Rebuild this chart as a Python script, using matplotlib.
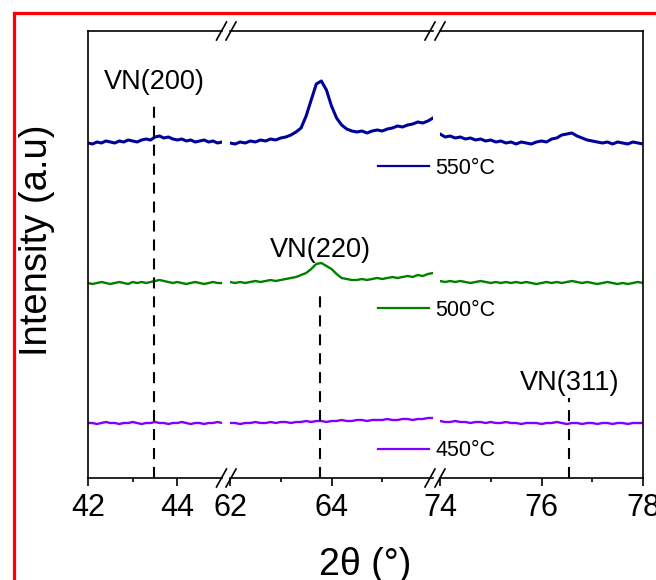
import numpy as np
import matplotlib
matplotlib.use("Agg")
import matplotlib.pyplot as plt
from matplotlib.lines import Line2D
from matplotlib.patches import Rectangle

plt.rcParams['font.family'] = ['Liberation Sans', 'DejaVu Sans']

########################
# x sampling of the three windows (2theta, deg)
x_seg1 = np.linspace(42, 45, 31)
x_seg2 = np.linspace(62, 66, 41)
x_seg3 = np.linspace(74, 78, 41)

# 550 C (intensity, a.u.)
i550_seg1 = [335, 334, 336, 335, 337, 336, 335, 337, 336, 338, 337, 336, 338, 339, 338, 341,
             342, 340, 341, 339, 338, 339, 337, 338, 336, 337, 338, 336, 337, 335, 336]
i550_seg2 = [335, 334, 336, 335, 337, 336, 338, 337, 339, 338, 340, 341, 343, 346, 350, 362,
             378, 394, 397, 388, 372, 360, 353, 349, 347, 346, 347, 345, 347, 348, 347, 349,
             350, 352, 351, 353, 354, 356, 355, 357, 360]
i550_seg3 = [344, 341, 342, 340, 341, 339, 340, 338, 339, 337, 338, 336, 337, 335, 336, 334,
             336, 335, 334, 336, 337, 336, 339, 340, 343, 344, 345, 342, 340, 338, 337, 336,
             335, 336, 334, 336, 335, 334, 336, 335, 334]

# 500 C
i500_seg1 = [195, 194, 195, 196, 195, 194, 195, 196, 195, 194, 196, 195, 196, 195, 196, 197,
             198, 197, 196, 195, 196, 195, 194, 195, 196, 195, 194, 195, 196, 195, 195]
i500_seg2 = [196, 195, 196, 195, 196, 197, 196, 197, 198, 197, 198, 199, 200, 201, 203, 205,
             209, 214, 215, 212, 209, 204, 200, 199, 198, 198, 199, 198, 199, 200, 199, 200,
             201, 200, 201, 202, 201, 203, 202, 204, 205]
i500_seg3 = [197, 196, 197, 196, 197, 196, 195, 196, 197, 196, 195, 196, 195, 196, 195, 196,
             195, 196, 195, 194, 195, 196, 195, 196, 195, 196, 197, 196, 195, 196, 195, 194,
             195, 196, 195, 194, 195, 194, 195, 196, 195]

# 450 C
i450_seg1 = [55, 55, 54, 55, 56, 55, 55, 54, 55, 55, 56, 55, 54, 55, 55, 56, 55, 55, 54, 55,
             55, 56, 55, 54, 55, 55, 54, 55, 55, 56, 55]
i450_seg2 = [55, 55, 54, 55, 55, 56, 55, 55, 56, 55, 56, 56, 55, 56, 56, 57, 56, 57, 57, 56,
             57, 57, 58, 57, 57, 58, 58, 57, 58, 58, 58, 59, 58, 58, 59, 59, 58, 59, 59, 60, 60]
i450_seg3 = [57, 56, 56, 57, 56, 56, 55, 56, 56, 55, 56, 55, 55, 56, 55, 55, 54, 55, 55, 55,
             54, 55, 55, 56, 55, 54, 55, 55, 54, 55, 55, 54, 55, 55, 54, 55, 55, 54, 55, 55, 55]

labels = ["550°C", "500°C", "450°C"]
colors = ["#00009B", "#008000", "#8000FF"]

# reference peaks: name, position, top of dashed marker, label height, window index
peak_names = ["VN(200)", "VN(220)", "VN(311)"]
peak_pos = [43.48, 63.78, 76.55]
peak_top = [373, 188, 80]
peak_label_y = [389, 221, 88]
peak_window = [0, 1, 2]
########################

W, H = 656, 580
fig = plt.figure(figsize=(W / 100, H / 100), dpi=100)


def fx(x):
    return x / W


def fy(y):
    return 1 - y / H


top, bottom = 31, 478
windows = [(88, 222, 42, 45, [42, 44], [43]),
           (230, 433, 62, 66, [62, 64], [63, 65]),
           (440, 643, 74, 78, [74, 76, 78], [75, 77])]
axes = []
for x0, x1, lo, hi, major, minor in windows:
    ax = fig.add_axes([fx(x0), fy(bottom), (x1 - x0) / W, (bottom - top) / H])
    ax.set_xlim(lo, hi)
    ax.set_ylim(0, 447)
    ax.set_xticks(major)
    ax.set_xticks(minor, minor=True)
    ax.set_yticks([])
    ax.tick_params(axis='x', which='major', direction='out', length=6, width=1.2,
                   labelsize=22, pad=5)
    ax.tick_params(axis='x', which='minor', direction='out', length=3.2, width=1.2)
    for s in ax.spines.values():
        s.set_linewidth(1.2)
    axes.append(ax)

axes[0].spines['right'].set_visible(False)
axes[1].spines['left'].set_visible(False)
axes[1].spines['right'].set_visible(False)
axes[2].spines['left'].set_visible(False)

xs = [x_seg1, x_seg2, x_seg3]
series = [[i550_seg1, i550_seg2, i550_seg3],
          [i500_seg1, i500_seg2, i500_seg3],
          [i450_seg1, i450_seg2, i450_seg3]]
widths = [2.2, 1.7, 1.7]
handles = []
for segs, c, lw in zip(series, colors, widths):
    for ax, x, y in zip(axes, xs, segs):
        ln, = ax.plot(x, y, color=c, lw=lw, solid_joinstyle='round')
    handles.append(ln)

for name, pos, t, ly, k in zip(peak_names, peak_pos, peak_top, peak_label_y, peak_window):
    ax = axes[k]
    ax.vlines(pos, 0, t, colors='black', lw=1.5, linestyles=(0, (5.3, 3.8)))
    ax.text(pos, ly, name, ha='center', va='baseline', fontsize=19.5)

# separate legend entries under each curve
legend_y = [168, 310, 451]
for h, lab, ly in zip(handles, labels, legend_y):
    fig.legend([Line2D([], [], color=h.get_color(), lw=1.6)], [lab], loc='center left',
               bbox_to_anchor=(fx(378), fy(ly)), frameon=False, fontsize=15.5,
               handlelength=2.35, handletextpad=0.3, borderpad=0, borderaxespad=0)

# axis break marks
for cx in [221.5, 231, 430, 440]:
    for yb in [top, bottom]:
        fig.add_artist(Line2D([fx(cx - 5), fx(cx + 5)], [fy(yb + 9), fy(yb - 9)],
                              color='black', lw=1.2, transform=fig.transFigure))

fig.text(fx(365), fy(575), "2θ (°)", ha='center', va='baseline', fontsize=27)
fig.text(fx(37), fy(240), "Intensity (a.u)", ha='center', va='center', rotation=90,
         fontsize=27.5)

fig.add_artist(Rectangle((fx(13.5), -0.1), 1.2, fy(13.5) + 0.1, transform=fig.transFigure,
                         fill=False, edgecolor='red', lw=2.3))

fig.savefig("out.png", dpi=100)
